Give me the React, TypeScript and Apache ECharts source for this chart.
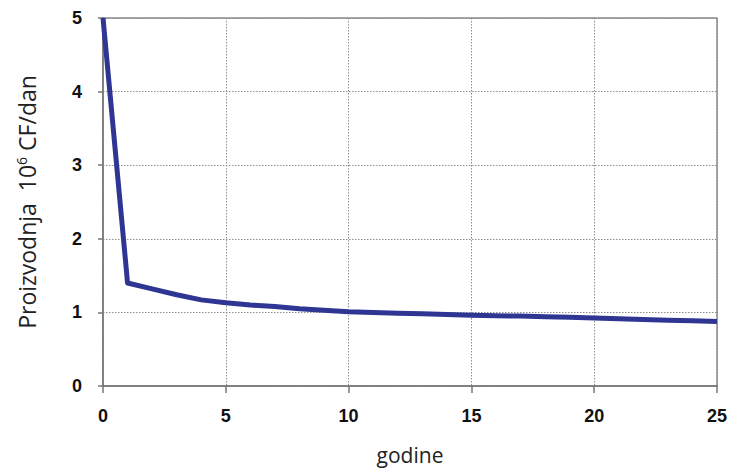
import React, { useEffect, useRef } from "react";
import * as echarts from "echarts";

const years = [0, 1, 2, 3, 4, 5, 6, 7, 8, 9, 10, 11, 12, 13, 14, 15, 16, 17, 18, 19, 20, 21, 22, 23, 24, 25];
const production = [5, 1.4, 1.32, 1.24, 1.17, 1.13, 1.1, 1.08, 1.05, 1.03, 1.01, 1.0, 0.99, 0.98, 0.97, 0.96, 0.955, 0.95, 0.94, 0.935, 0.925, 0.915, 0.905, 0.895, 0.885, 0.875];
const xTitle = "godine";
const yTitle = "Proizvodnja  10{sup|6} CF/dan";

export default function App() {
  const ref = useRef<HTMLDivElement>(null);
  useEffect(() => {
    document.body.style.margin = "0";
    const chart = echarts.init(ref.current!, null, { renderer: "svg" });
    const data = years.map((y, i) => [y, production[i]]);
    chart.setOption({
      animation: false,
      backgroundColor: "#ffffff",
      grid: {
        left: 103,
        top: 18,
        right: 16,
        bottom: 82,
        containLabel: false,
        outerBoundsMode: "none",
        show: true,
        borderColor: "#8a8a8a",
        borderWidth: 1.5,
      },
      xAxis: {
        type: "value",
        min: 0,
        max: 25,
        interval: 5,
        name: xTitle,
        nameLocation: "middle",
        nameGap: 58,
        nameTextStyle: { fontFamily: "Open Sans", fontSize: 21, color: "#222" },
        axisLine: { show: true, lineStyle: { color: "#777", width: 1.5 } },
        axisTick: { show: true, length: 7, lineStyle: { color: "#777", width: 1.5 } },
        axisLabel: {
          margin: 21,
          fontFamily: "Liberation Sans",
          fontWeight: "bold",
          fontSize: 18,
          color: "#111",
        },
        splitLine: { show: true, lineStyle: { color: "#8f8f8f", type: [1.5, 1.5], width: 1 } },
      },
      yAxis: {
        type: "value",
        min: 0,
        max: 5,
        interval: 1,
        name: yTitle,
        nameLocation: "middle",
        nameRotate: 90,
        nameGap: 64,
        nameTextStyle: {
          fontFamily: "Open Sans",
          fontSize: 23,
          color: "#222",
          rich: {
            sup: { fontFamily: "Open Sans", fontSize: 14, verticalAlign: "top", padding: [0, 0, 11, 0], color: "#222" },
          },
        },
        axisLine: { show: true, lineStyle: { color: "#777", width: 1.5 } },
        axisTick: { show: true, length: 5, lineStyle: { color: "#777", width: 1.5 } },
        axisLabel: {
          margin: 21,
          fontFamily: "Liberation Sans",
          fontWeight: "bold",
          fontSize: 18,
          color: "#111",
        },
        splitLine: { show: true, lineStyle: { color: "#8f8f8f", type: [1.5, 1.5], width: 1 } },
      },
      series: [
        {
          type: "line",
          data,
          showSymbol: false,
          symbol: "none",
          lineStyle: { color: "#2e3593", width: 5, join: "round" },
        },
      ],
    });
    return () => chart.dispose();
  }, []);
  return <div ref={ref} style={{ width: 733, height: 468 }} />;
}
